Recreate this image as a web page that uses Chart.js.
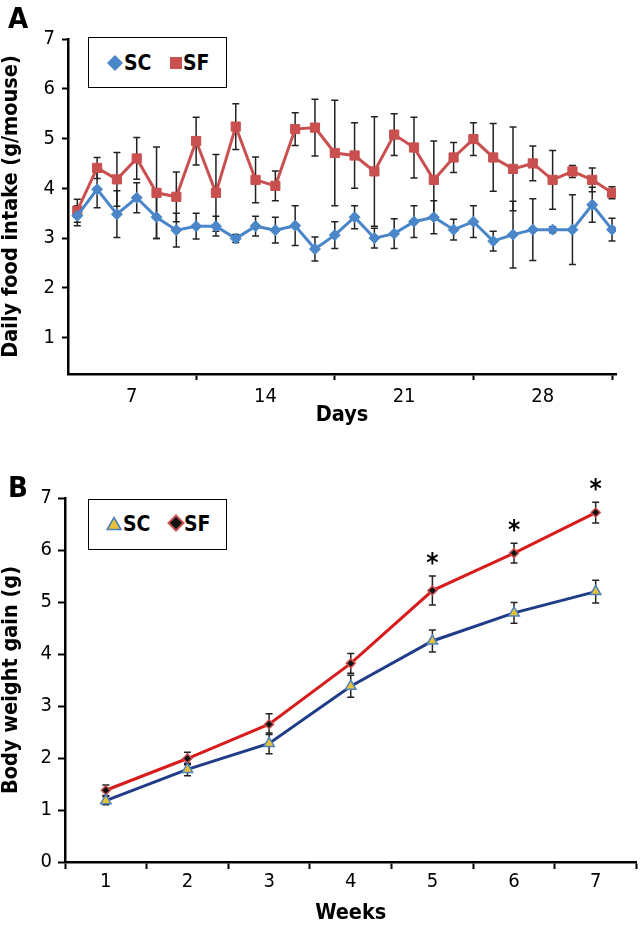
<!DOCTYPE html>
<html>
<head>
<meta charset="utf-8">
<title>Food intake and body weight gain</title>
<script src="https://cdn.jsdelivr.net/npm/chart.js@4.4.0/dist/chart.umd.min.js"></script>
<style>
  body { margin: 0; background: #fff; }
  #page { position: relative; width: 644px; height: 925px; overflow: hidden;
          font-family: 'Liberation Sans Narrow', 'Arial Narrow', 'DejaVu Sans Condensed', sans-serif; }
  #chartA { position: absolute; left: 0; top: 0; }
  #chartB { position: absolute; left: 0; top: 440px; }
  .tag { position: absolute; font-weight: bold; font-size: 29px; line-height: 1; }
  .legend { position: absolute; width: 139px; height: 51px; box-sizing: border-box;
            border: 1.5px solid #000; background: #fff; }
  .legend svg { position: absolute; }
  .legend span { position: absolute; font-weight: bold; font-size: 21px; line-height: 1; }
</style>
</head>
<body>
<div id="page">
  <canvas id="chartA" width="644" height="440"></canvas>
  <canvas id="chartB" width="644" height="485"></canvas>

  <div class="tag" style="left:8px; top:4px;">A</div>
  <div class="tag" style="left:8px; top:473px;">B</div>

  <div class="legend" style="left:88px; top:37px;">
    <svg style="left:18px; top:17px;" width="16" height="16"><polygon points="8,0 16,8 8,16 0,8" fill="#4a86c8"/></svg>
    <span style="left:35px; top:15px;">SC</span>
    <svg style="left:81px; top:19px;" width="12" height="12"><rect x="0" y="0" width="12" height="12" fill="#c9504f"/></svg>
    <span style="left:94px; top:15px;">SF</span>
  </div>

  <div class="legend" style="left:88px; top:499px;">
    <svg style="left:17px; top:16px;" width="16" height="15"><polygon points="8,1.5 15,13.5 1,13.5" fill="#e6c234" stroke="#4f81bd" stroke-width="1.6"/></svg>
    <span style="left:34px; top:14px;">SC</span>
    <svg style="left:78px; top:14px;" width="18" height="18"><polygon points="9,1.5 16.5,9 9,16.5 1.5,9" fill="#111" stroke="#c9504f" stroke-width="2"/></svg>
    <span style="left:95px; top:14px;">SF</span>
  </div>
</div>

<script>
// ---- Panel A : daily food intake ----
const days = [1, 2, 3, 4, 5, 6, 7, 8, 9, 10, 11, 12, 13, 14,
              15, 16, 17, 18, 19, 20, 21, 22, 23, 24, 25, 26, 27, 28];
const dayTickMarks = [7, 14, 21, 28];
const dayLabelPos = [3.75, 10.5, 17.5, 24.5];
const dayLabels = ['7', '14', '21', '28'];
const intakeTicks = [1, 2, 3, 4, 5, 6, 7];

const intakeSC = [3.45, 3.98, 3.48, 3.81, 3.42, 3.16, 3.24, 3.24, 2.99, 3.24, 3.16, 3.25, 2.78, 3.06,
                  3.42, 3.0, 3.09, 3.33, 3.42, 3.17, 3.33, 2.94, 3.07, 3.17, 3.17, 3.17, 3.67, 3.17];
const intakeSCErr = [0.2, 0.37, 0.47, 0.3, 0.43, 0.34, 0.26, 0.2, 0.08, 0.2, 0.26, 0.4, 0.24, 0.27,
                     0.23, 0.2, 0.3, 0.32, 0.33, 0.21, 0.32, 0.2, 0.67, 0.62, 0.06, 0.7, 0.35, 0.23];
const intakeSF = [3.55, 4.41, 4.18, 4.6, 3.91, 3.83, 4.95, 3.91, 5.24, 4.17, 4.05, 5.19, 5.22, 4.71,
                  4.66, 4.34, 5.08, 4.82, 4.17, 4.62, 4.99, 4.62, 4.39, 4.5, 4.17, 4.34, 4.17, 3.91];
const intakeSFErr = [0.23, 0.21, 0.54, 0.42, 0.92, 0.5, 0.48, 0.77, 0.46, 0.46, 0.3, 0.33, 0.57, 1.06,
                     0.66, 1.1, 0.42, 0.61, 0.78, 0.3, 0.33, 0.68, 0.84, 0.35, 0.59, 0.12, 0.24, 0.12];

// ---- Panel B : body weight gain ----
const weeks = ['1', '2', '3', '4', '5', '6', '7'];
const gainTicks = [0, 1, 2, 3, 4, 5, 6, 7];
const gainSC = [1.18, 1.78, 2.28, 3.38, 4.25, 4.79, 5.2];
const gainSCErr = [0.08, 0.12, 0.2, 0.21, 0.21, 0.2, 0.22];
const gainSF = [1.38, 1.99, 2.65, 3.82, 5.22, 5.94, 6.72];
const gainSFErr = [0.1, 0.12, 0.2, 0.19, 0.28, 0.19, 0.2];
const gainStars = ['', '', '', '', '*', '*', '*'];

const FONT = "'Liberation Sans Narrow', 'Arial Narrow', 'DejaVu Sans Condensed', sans-serif";
const tickFont = { family: FONT, size: 20, lineHeight: 1 };
const titleFont = { family: FONT, size: 21.5, weight: 'bold', lineHeight: 1 };

// error bars (drawn under the markers)
const errorBars = {
    id: 'errorBars',
    beforeDatasetsDraw(chart) {
        const ctx = chart.ctx;
        const y = chart.scales.y;
        chart.data.datasets.forEach((ds, i) => {
            if (!ds.errors) return;
            const meta = chart.getDatasetMeta(i);
            ctx.save();
            ctx.strokeStyle = '#222';
            ctx.lineWidth = 1.5;
            meta.data.forEach((pt, j) => {
                const v = meta._parsed[j].y;
                const e = ds.errors[j];
                const top = y.getPixelForValue(v + e);
                const bot = y.getPixelForValue(v - e);
                ctx.beginPath();
                ctx.moveTo(pt.x, top); ctx.lineTo(pt.x, bot);
                ctx.moveTo(pt.x - 3.5, top); ctx.lineTo(pt.x + 3.5, top);
                ctx.moveTo(pt.x - 3.5, bot); ctx.lineTo(pt.x + 3.5, bot);
                ctx.stroke();
            });
            ctx.restore();
        });
    }
};

// significance stars above the error bars
const stars = {
    id: 'stars',
    afterDatasetsDraw(chart) {
        const ctx = chart.ctx;
        const y = chart.scales.y;
        chart.data.datasets.forEach((ds, i) => {
            if (!ds.stars) return;
            const meta = chart.getDatasetMeta(i);
            ctx.save();
            ctx.fillStyle = '#000';
            ctx.font = 'bold 26px ' + FONT;
            ctx.textAlign = 'center';
            ctx.textBaseline = 'alphabetic';
            meta.data.forEach((pt, j) => {
                if (!ds.stars[j]) return;
                const top = y.getPixelForValue(meta._parsed[j].y + ds.errors[j]);
                ctx.fillText(ds.stars[j], pt.x, top - 4);
            });
            ctx.restore();
        });
    }
};

Chart.defaults.color = '#000';

new Chart(document.getElementById('chartA'), {
    type: 'line',
    data: {
        datasets: [
            {
                label: 'SC',
                data: days.map((d, i) => ({ x: d, y: intakeSC[i] })),
                errors: intakeSCErr,
                borderColor: '#4a86c8', backgroundColor: '#4a86c8',
                borderWidth: 3, pointStyle: 'rectRot', pointRadius: 5.5, pointBorderWidth: 1
            },
            {
                label: 'SF',
                data: days.map((d, i) => ({ x: d, y: intakeSF[i] })),
                errors: intakeSFErr,
                borderColor: '#c9504f', backgroundColor: '#c9504f',
                borderWidth: 3, pointStyle: 'rect', pointRadius: 6.5, pointBorderWidth: 1
            }
        ]
    },
    options: {
        responsive: false,
        animation: false,
        layout: { padding: { top: 39, right: 28, bottom: 0, left: 0 } },
        plugins: { legend: { display: false }, tooltip: { enabled: false } },
        scales: {
            x: {
                type: 'linear', min: 0.53, max: 28.2,
                afterBuildTicks: s => {
                    s.ticks = dayLabelPos.concat(dayTickMarks).sort((a, b) => a - b).map(v => ({ value: v }));
                },
                afterFit: s => { s.height = 66; },
                ticks: {
                    autoSkip: false, maxRotation: 0, padding: 7, font: tickFont,
                    callback: v => { const k = dayLabelPos.indexOf(v); return k >= 0 ? dayLabels[k] : ''; }
                },
                grid: {
                    drawOnChartArea: false, tickLength: 6, tickWidth: 2,
                    tickColor: c => (c.tick && dayTickMarks.includes(c.tick.value)) ? '#000' : 'rgba(0,0,0,0)'
                },
                border: { color: '#000', width: 2.5 },
                title: { display: true, text: 'Days', font: titleFont, padding: { top: 0, bottom: 14 } }
            },
            y: {
                min: 0.27, max: 7,
                afterBuildTicks: s => { s.ticks = intakeTicks.map(v => ({ value: v })); },
                afterFit: s => { s.width = 68; },
                ticks: { padding: 7, font: tickFont },
                grid: { drawOnChartArea: false, tickLength: 6, tickWidth: 2, tickColor: '#000' },
                border: { color: '#000', width: 2.5 },
                title: { display: true, text: 'Daily food intake (g/mouse)', font: titleFont, padding: { top: 1 } }
            }
        }
    },
    plugins: [errorBars]
});

new Chart(document.getElementById('chartB'), {
    type: 'line',
    data: {
        labels: weeks,
        datasets: [
            {
                label: 'SC',
                data: gainSC,
                errors: gainSCErr,
                borderColor: '#1f3c88', borderWidth: 3,
                pointStyle: 'triangle', pointRadius: 6,
                pointBackgroundColor: '#e6c234', pointBorderColor: '#4f81bd', pointBorderWidth: 1.5
            },
            {
                label: 'SF',
                data: gainSF,
                errors: gainSFErr,
                stars: gainStars,
                borderColor: '#d81b1b', borderWidth: 3,
                pointStyle: 'rectRot', pointRadius: 4.5,
                pointBackgroundColor: '#111', pointBorderColor: '#c9504f', pointBorderWidth: 1.5
            }
        ]
    },
    options: {
        responsive: false,
        animation: false,
        layout: { padding: { top: 58, right: 4, bottom: 0, left: 0 } },
        plugins: { legend: { display: false }, tooltip: { enabled: false } },
        scales: {
            x: {
                type: 'category', offset: true,
                afterFit: s => { s.height = 63; },
                ticks: { autoSkip: false, maxRotation: 0, padding: 3, font: tickFont },
                grid: { offset: true, drawOnChartArea: false, tickLength: 7, tickWidth: 2, tickColor: '#000' },
                border: { color: '#000', width: 2.5 },
                title: { display: true, text: 'Weeks', font: titleFont, padding: { top: 0, bottom: 1 } }
            },
            y: {
                min: 0, max: 7,
                afterBuildTicks: s => { s.ticks = gainTicks.map(v => ({ value: v })); },
                afterFit: s => { s.width = 65; },
                ticks: { padding: 6, font: tickFont },
                grid: { drawOnChartArea: false, tickLength: 7, tickWidth: 2, tickColor: '#000' },
                border: { color: '#000', width: 2.5 },
                title: { display: true, text: 'Body weight gain (g)', font: titleFont, padding: { top: 1 } }
            }
        }
    },
    plugins: [errorBars, stars]
});
</script>
</body>
</html>
